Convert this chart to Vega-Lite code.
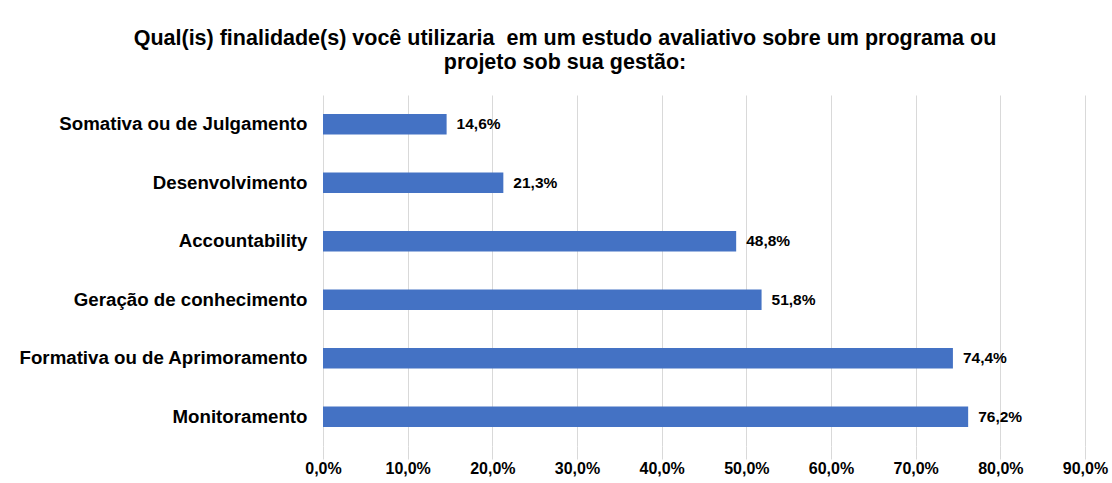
{
  "$schema": "https://vega.github.io/schema/vega-lite/v6.json",
  "width": 762,
  "height": 351,
  "autosize": {"type": "none"},
  "padding": {"left": 323, "top": 95, "right": 27, "bottom": 37},
  "background": "white",
  "config": {"view": {"stroke": null}, "font": "Liberation Sans"},
  "title": {
    "text": ["Qual(is) finalidade(s) você utilizaria \u00a0em um estudo avaliativo sobre um programa ou", "projeto sob sua gestão:"],
    "fontSize": 21.5,
    "fontWeight": "bold",
    "font": "Liberation Sans",
    "color": "#000000",
    "anchor": "middle",
    "dx": -139,
    "offset": 22,
    "lineHeight": 24
  },
  "data": {
    "values": [
      {"finalidade": "Somativa ou de Julgamento", "pct": 14.6},
      {"finalidade": "Desenvolvimento", "pct": 21.3},
      {"finalidade": "Accountability", "pct": 48.8},
      {"finalidade": "Geração de conhecimento", "pct": 51.8},
      {"finalidade": "Formativa ou de Aprimoramento", "pct": 74.4},
      {"finalidade": "Monitoramento", "pct": 76.2}
    ]
  },
  "transform": [
    {"calculate": "replace(format(datum.pct, '.1f'), '.', ',') + '%'", "as": "label"}
  ],
  "encoding": {
    "y": {
      "field": "finalidade",
      "type": "nominal",
      "sort": null,
      "scale": {"paddingInner": 0.65, "paddingOuter": 0.325},
      "axis": {
        "title": null,
        "domain": false,
        "ticks": false,
        "labelFontSize": 18.7,
        "labelFontWeight": "bold",
        "labelColor": "#000000",
        "labelPadding": 16,
        "labelLimit": 400
      }
    },
    "x": {
      "field": "pct",
      "type": "quantitative",
      "scale": {"domain": [0, 90], "nice": false},
      "axis": {
        "title": null,
        "values": [0, 10, 20, 30, 40, 50, 60, 70, 80, 90],
        "labelExpr": "replace(format(datum.value, '.1f'), '.', ',') + '%'",
        "domain": false,
        "grid": true,
        "gridColor": "#d9d9d9",
        "ticks": true,
        "tickColor": "#d9d9d9",
        "tickSize": 13,
        "labelFontSize": 16,
        "labelFontWeight": "bold",
        "labelColor": "#000000",
        "labelPadding": 1,
        "labelFlush": false
      }
    }
  },
  "layer": [
    {"mark": {"type": "bar", "color": "#4472C4"}},
    {
      "mark": {"type": "text", "align": "left", "baseline": "middle", "dx": 10, "fontSize": 15.5, "fontWeight": "bold", "color": "#000000"},
      "encoding": {"text": {"field": "label"}}
    }
  ]
}
